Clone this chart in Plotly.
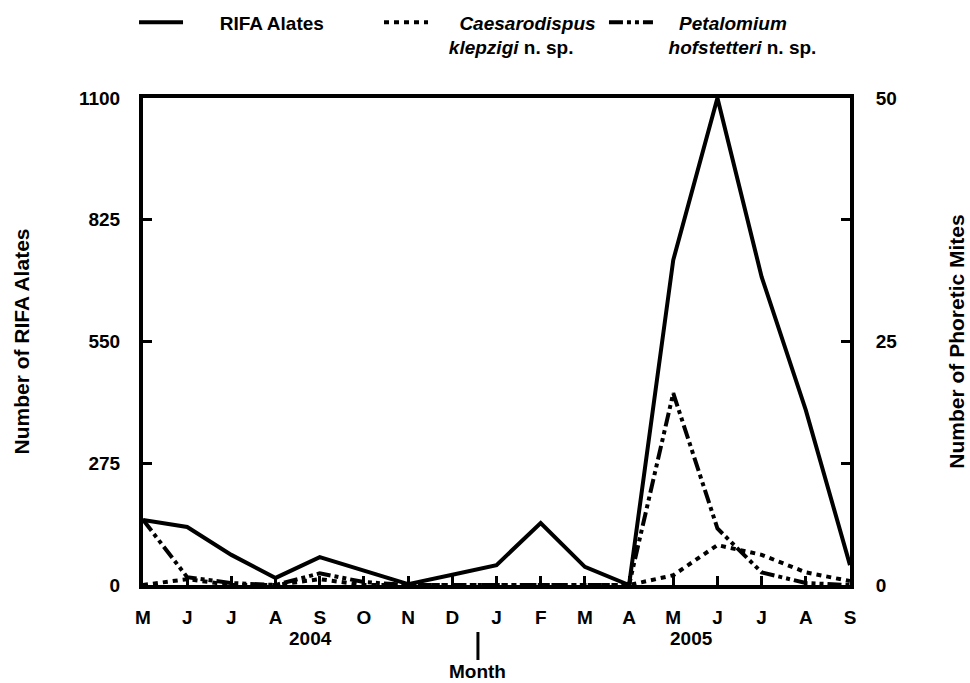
import plotly.graph_objects as go

months = ["M", "J", "J", "A", "S", "O", "N", "D", "J", "F", "M", "A", "M", "J", "J", "A", "S"]
rifa_alates = [147, 131, 68, 16, 63, 32, 2, 23, 45, 140, 41, 0, 734, 1100, 696, 395, 45]
caesarodispus = [0, 0.6, 0, 0, 0.6, 0, 0, 0, 0, 0, 0, 0, 1.0, 4.1, 3.1, 1.3, 0.4]
petalomium = [6.7, 0.8, 0.2, 0, 1.2, 0.3, 0, 0, 0, 0, 0, 0, 19.7, 5.8, 1.3, 0.2, 0]
left_ticks = [0, 275, 550, 825, 1100]
right_ticks = [0, 12.5, 25, 37.5, 50]
right_ticktext = ["0", "", "25", "", "50"]
year_labels = [("2004", 3.78), ("2005", 12.42)]

x = list(range(len(months)))
FONT = "Liberation Sans, Arial, sans-serif"
SP = "\u00a0"

fig = go.Figure()
fig.add_trace(go.Scatter(x=x, y=rifa_alates, mode="lines", name="<b>" + SP * 6 + "RIFA Alates</b>",
                         line=dict(color="black", width=4), yaxis="y", legend="legend"))
fig.add_trace(go.Scatter(x=x, y=caesarodispus, mode="lines",
                         name="<b>" + SP * 5 + "<i>Caesarodispus</i><br>" + SP * 3 + "<i>klepzigi</i> n. sp.</b>",
                         line=dict(color="black", width=4, dash="5px,5px"), yaxis="y2", legend="legend2"))
fig.add_trace(go.Scatter(x=x, y=petalomium, mode="lines",
                         name="<b>" + SP * 4 + "<i>Petalomium</i><br>" + SP * 2 + "<i>hofstetteri</i> n. sp.</b>",
                         line=dict(color="black", width=4, dash="14px,4px,4px,4px,4px,4px"), yaxis="y2", legend="legend3"))

def leg(xpos, iw):
    return dict(orientation="h", x=xpos, xanchor="left", y=1.194, yanchor="top",
                valign="top", font=dict(family=FONT, size=19, color="black"),
                itemwidth=iw, bgcolor="rgba(0,0,0,0)")

fig.update_layout(
    width=970, height=683,
    margin=dict(l=143, r=120, t=98, b=98, autoexpand=False),
    paper_bgcolor="white", plot_bgcolor="white",
    font=dict(family=FONT, size=19, color="black"),
    showlegend=True,
    legend=leg(-0.0127, 44), legend2=leg(0.3338, 44), legend3=leg(0.652, 44),
    xaxis=dict(
        tickmode="array", tickvals=x, ticktext=["<b>%s</b>" % m for m in months],
        range=[0, len(months) - 1], showgrid=False, zeroline=False,
        showline=True, linecolor="black", linewidth=4, mirror=True,
        ticks="inside", ticklen=9, tickwidth=3, tickcolor="black",
        tickfont=dict(family=FONT, size=19), ticklabelstandoff=12,
    ),
    yaxis=dict(
        range=[0, 1100], tickmode="array", tickvals=left_ticks,
        ticktext=["<b>%d</b>" % v for v in left_ticks],
        showgrid=False, zeroline=False,
        showline=True, linecolor="black", linewidth=4, mirror=True,
        ticks="inside", ticklen=9, tickwidth=3, tickcolor="black",
        tickfont=dict(family=FONT, size=19), ticklabelstandoff=15,
        title=dict(text="<b>Number of RIFA Alates</b>", font=dict(family=FONT, size=21), standoff=45),
    ),
    yaxis2=dict(
        range=[0, 50], overlaying="y", side="right", tickmode="array",
        tickvals=right_ticks, ticktext=["<b>%s</b>" % t if t else "" for t in right_ticktext],
        showgrid=False, zeroline=False, showline=True, linecolor="black", linewidth=4,
        ticks="inside", ticklen=9, tickwidth=3, tickcolor="black",
        tickfont=dict(family=FONT, size=19), ticklabelstandoff=18,
        title=dict(text="<b>Number of Phoretic Mites</b>", font=dict(family=FONT, size=21), standoff=54),
    ),
)

for label, pos in year_labels:
    fig.add_annotation(x=pos, y=0, xref="x", yref="paper", text="<b>%s</b>" % label,
                       showarrow=False, yanchor="middle", yshift=-53, font=dict(family=FONT, size=19))

fig.add_shape(type="line", xref="x", yref="paper", x0=7.58, x1=7.58, y0=-0.0965, y1=-0.154,
              line=dict(color="black", width=3))
fig.add_annotation(x=7.58, y=0, xref="x", yref="paper", text="<b>Month</b>", showarrow=False,
                   yanchor="middle", yshift=-86, font=dict(family=FONT, size=19))

fig.write_html("out.html", config={"displayModeBar": False},
               post_script="document.body.style.margin='0px';document.body.style.overflow='hidden';")
